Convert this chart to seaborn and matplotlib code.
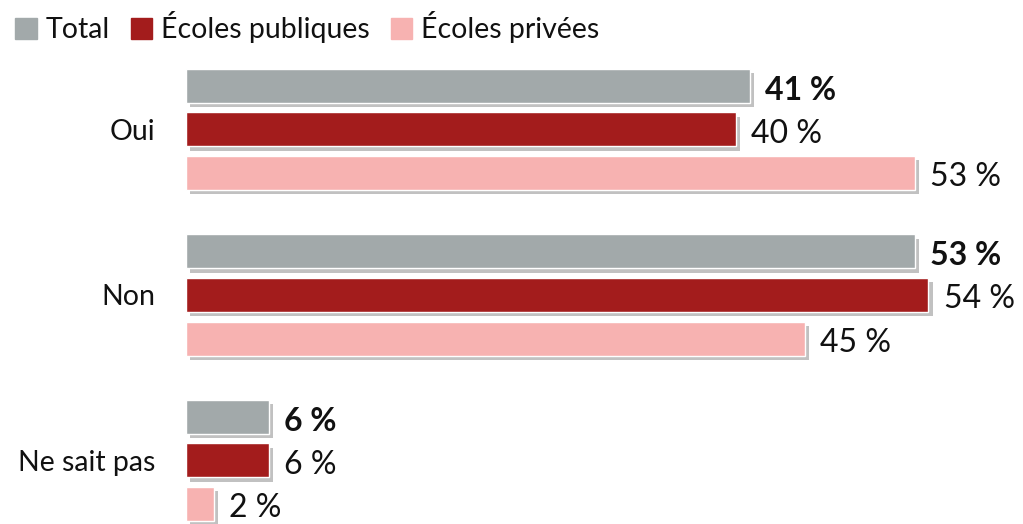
import matplotlib
matplotlib.use("Agg")
import pandas as pd
import seaborn as sns
import matplotlib.pyplot as plt
from matplotlib import patheffects as pe
from matplotlib.patches import Patch

# data
categories = ["Oui", "Non", "Ne sait pas"]
series = ["Total", "Écoles publiques", "Écoles privées"]
total = [41, 53, 6]
publiques = [40, 54, 6]
privees = [53, 45, 2]
colors = ["#a2a9aa", "#a31c1c", "#f7b2b1"]

df = pd.DataFrame({
    "reponse": categories * 3,
    "groupe": [s for s in series for _ in categories],
    "pct": total + publiques + privees,
})

sns.set_style("white")
plt.rcParams["font.family"] = ["Lato", "DejaVu Sans"]

fig = plt.figure(figsize=(10.23, 5.24), dpi=100)
ax = fig.add_axes([186 / 1023, 0, 837 / 1023, 1])

sns.barplot(data=df, y="reponse", x="pct", hue="groupe", order=categories,
            hue_order=series, palette=colors, orient="h", width=0.79, gap=0.22,
            saturation=1, legend=False, ax=ax)

# soft drop shadow on bars
for p in ax.patches:
    p.set_path_effects([pe.SimplePatchShadow(offset=(3, -3), shadow_rgbFace="#777777", alpha=0.45),
                        pe.Normal()])

# value labels
for i, (cont, vals) in enumerate(zip(ax.containers, [total, publiques, privees])):
    texts = ax.bar_label(cont, labels=[f"{v} %" for v in vals], padding=11, fontsize=23,
                         fontweight="bold" if i == 0 else "normal", color="#111111")
    for t in texts:
        t.xyann = (11, -3)

ax.set_xlim(0, 837 / 13.75)
ax.set_ylim(2.384, -0.7825)
ax.set_xlabel("")
ax.set_ylabel("")
ax.set_xticks([])
ax.tick_params(axis="y", length=0, pad=22, labelsize=20.5, labelcolor="#111111")
sns.despine(ax=ax, left=True, bottom=True)

handles = [Patch(color=c, label=s) for c, s in zip(colors, series)]
fig.legend(handles=handles, loc="upper left", bbox_to_anchor=(0.004, 1.0), ncol=3,
           frameon=False, fontsize=20.5, handlelength=0.75, handleheight=0.75,
           handletextpad=0.3, columnspacing=0.75, borderaxespad=0, labelcolor="#111111")

fig.savefig("out.png", dpi=100)
